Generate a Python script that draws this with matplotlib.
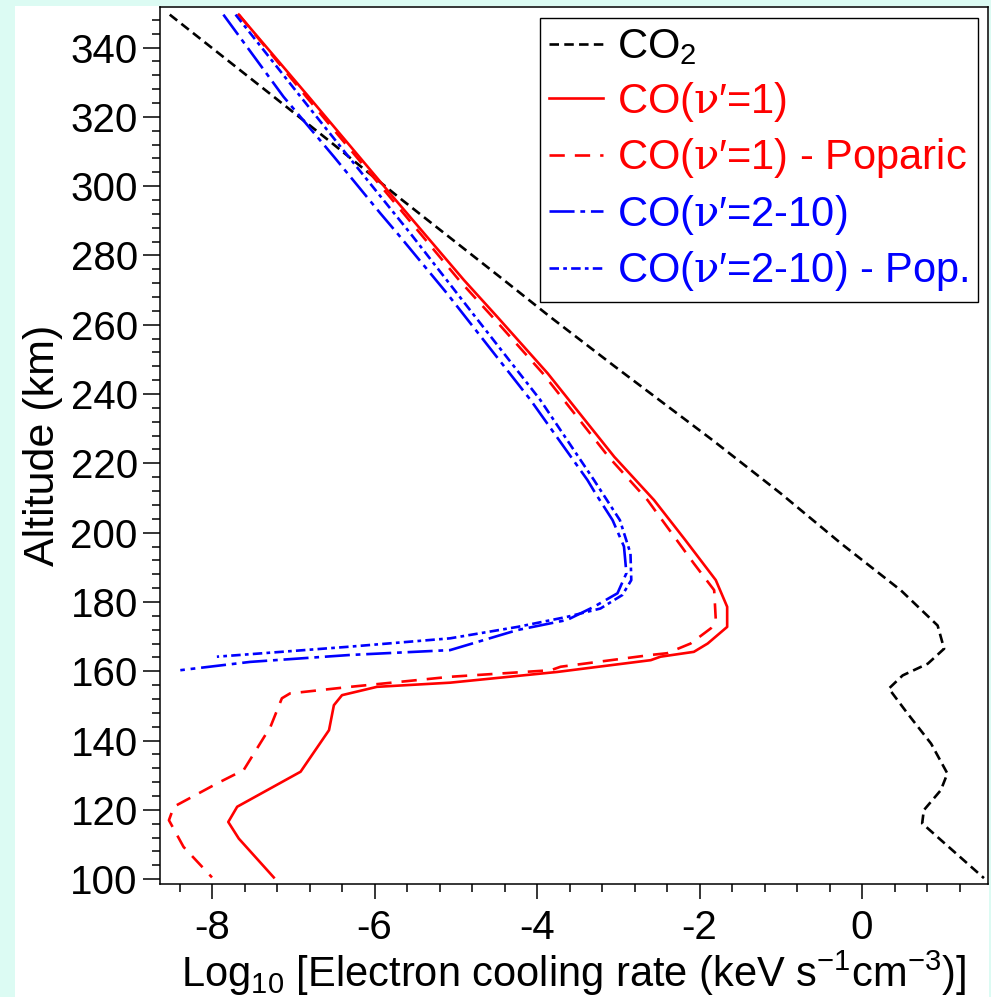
import matplotlib
matplotlib.use("Agg")
import matplotlib.pyplot as plt
from matplotlib.patches import Rectangle
from matplotlib.ticker import MultipleLocator

plt.rcParams['font.family'] = ['Liberation Sans', 'DejaVu Sans']
plt.rcParams['mathtext.fontset'] = 'custom'
plt.rcParams['mathtext.rm'] = 'Liberation Sans'
plt.rcParams['mathtext.sf'] = 'DejaVu Serif'
plt.rcParams['mathtext.default'] = 'regular'
plt.rcParams['axes.unicode_minus'] = False

# Log10 electron cooling rate profiles versus altitude (km)
co2_alt = [349.5, 325.8, 313.3, 296.0, 272.0, 262.3, 247.9, 226.7, 211.3, 196.9,
           183.3, 173.2, 166.5, 162.2, 158.8, 155.0, 147.8, 139.1, 130.5, 125.7,
           119.9, 116.1, 111.3, 100.3]
co2_val = [-8.52, -7.24, -6.57, -5.66, -4.36, -3.84, -3.04, -1.84, -1.00, -0.26,
           0.48, 0.93, 1.01, 0.81, 0.50, 0.33, 0.56, 0.85, 1.05, 0.97,
           0.76, 0.74, 0.97, 1.50]

co1_alt = [349.5, 325.8, 296.0, 272.9, 262.3, 246.0, 221.9, 209.4, 198.0, 186.3,
           178.6, 172.8, 168.0, 165.6, 164.2, 163.2, 159.8, 156.7, 155.5, 153.1,
           150.2, 143.0, 131.0, 120.9, 116.5, 111.7, 100.5]
co1_val = [-7.67, -6.81, -5.74, -4.90, -4.49, -3.87, -3.05, -2.56, -2.18, -1.80,
           -1.66, -1.66, -1.90, -2.07, -2.48, -2.60, -3.75, -5.07, -5.97, -6.40,
           -6.50, -6.56, -6.91, -7.69, -7.80, -7.67, -7.24]

co1p_alt = [349.5, 325.8, 296.0, 272.9, 262.3, 246.0, 221.9, 209.4, 191.1, 183.4,
            174.8, 172.4, 168.0, 165.2, 164.7, 161.3, 160.3, 158.4, 155.5, 153.6,
            152.2, 144.0, 131.5, 127.6, 120.9, 117.0, 109.3, 100.5]
co1p_val = [-7.67, -6.84, -5.78, -4.96, -4.55, -3.93, -3.12, -2.64, -2.07, -1.82,
            -1.80, -1.86, -2.11, -2.40, -2.60, -3.71, -3.83, -5.07, -6.30, -7.04,
            -7.14, -7.28, -7.61, -7.94, -8.47, -8.53, -8.35, -8.00]

co210_alt = [349.5, 325.8, 308.5, 292.2, 286.4, 269.1, 238.3, 215.2, 211.3,
             203.6, 196.0, 188.3, 182.5, 178.6, 174.8, 171.9, 166.1, 164.7, 162.7,
             160.3]
co210_val = [-7.86, -7.12, -6.50, -5.93, -5.72, -5.11, -4.08, -3.38, -3.28,
             -3.07, -2.93, -2.90, -3.01, -3.30, -3.63, -4.24, -5.07, -6.30, -7.53,
             -8.39]

co210p_alt = [349.5, 325.8, 308.5, 286.4, 262.3, 238.3, 215.2, 203.6, 194.0, 186.3,
              182.0, 178.1, 175.7, 172.8, 169.5, 167.1, 164.2]
co210p_val = [-7.71, -6.91, -6.32, -5.56, -4.76, -3.96, -3.30, -2.98, -2.85, -2.84,
              -2.95, -3.22, -3.63, -4.24, -5.07, -6.30, -7.94]

nu = r"$\mathsf{\nu}$"
labels = ["CO$_2$", f"CO({nu}\u2032=1)", f"CO({nu}\u2032=1) - Poparic",
          f"CO({nu}\u2032=2-10)", f"CO({nu}\u2032=2-10) - Pop."]

fig = plt.figure(figsize=(9.91, 9.97), dpi=100)
fig.patch.set_facecolor('#dcfbf3')
# white page area behind the axes
fig.add_artist(Rectangle((15 / 991, 0), (989 - 15) / 991, (997 - 6) / 997,
                         transform=fig.transFigure, facecolor='white',
                         edgecolor='none', zorder=-5))

ax = fig.add_axes([160 / 991, (997 - 884) / 997, (988 - 160) / 991, (884 - 7) / 997])

lw = 1.9
ax.plot(co2_val, co2_alt, color='black', lw=lw, linestyle=(0, (3.6, 2.0)), label=labels[0])
ax.plot(co1_val, co1_alt, color='red', lw=lw, linestyle='-', label=labels[1])
ax.plot(co1p_val, co1p_alt, color='red', lw=lw, linestyle=(0, (5.8, 3.8)), label=labels[2])
ax.plot(co210_val, co210_alt, color='blue', lw=lw, linestyle=(0, (9.5, 2.2, 1.8, 2.2)),
        label=labels[3])
ax.plot(co210p_val, co210p_alt, color='blue', lw=lw, linestyle=(0, (3.6, 1.6, 1.4, 1.6)),
        label=labels[4])

ax.set_xlim(-8.64, 1.55)
ax.set_ylim(98.6, 351.7)
ax.xaxis.set_major_locator(MultipleLocator(2))
ax.xaxis.set_minor_locator(MultipleLocator(0.4))
ax.yaxis.set_major_locator(MultipleLocator(20))
ax.yaxis.set_minor_locator(MultipleLocator(4))

ax.tick_params(axis='both', which='both', direction='out', width=1.1, colors='black',
               labelsize=29, top=False, right=False)
ax.tick_params(axis='x', which='major', length=11, pad=7)
ax.tick_params(axis='y', which='major', length=12, pad=4)
ax.tick_params(axis='both', which='minor', length=5.5)
for s in ax.spines.values():
    s.set_linewidth(1.1)

ax.set_ylabel("Altitude (km)", fontsize=31, labelpad=5)
ax.set_xlabel("Log$_{10}$ [Electron cooling rate (keV s$^{-1}$cm$^{-3}$)]",
              fontsize=30, labelpad=1)

leg = ax.legend(loc='upper right', bbox_to_anchor=(0.988, 0.9875), borderaxespad=0,
                fontsize=30, frameon=True, fancybox=False, framealpha=1,
                edgecolor='black', handlelength=1.3, handletextpad=0.33,
                borderpad=0.22, labelspacing=0.3, labelcolor='linecolor')
leg.get_frame().set_linewidth(1.0)

fig.savefig("out.png", dpi=100, facecolor=fig.get_facecolor())
